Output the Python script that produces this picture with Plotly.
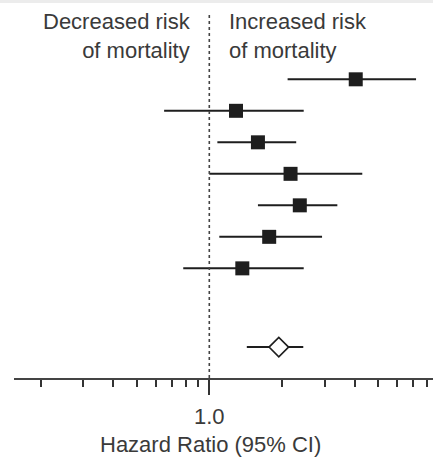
import plotly.graph_objects as go

# Data
rows = [1, 2, 3, 4, 5, 6, 7]
hr = [4.04, 1.29, 1.59, 2.17, 2.37, 1.77, 1.37]
ci_low = [2.11, 0.65, 1.08, 1.00, 1.59, 1.10, 0.78]
ci_high = [7.18, 2.46, 2.29, 4.30, 3.39, 2.93, 2.46]

pooled_row = [9.5]
pooled_hr = [1.94]
pooled_low = [1.43]
pooled_high = [2.45]

major_ticks = [1.0]
major_labels = ["1.0"]
minor_ticks = [0.2, 0.3, 0.4, 0.5, 0.6, 0.7, 0.8, 0.9, 2, 3, 4, 5, 6, 7, 8]

FONT = "Liberation Sans, Arial, Helvetica, sans-serif"
TXT = "#3a3a3a"
INK = "#1e1e1e"

fig = go.Figure()

fig.add_trace(go.Scatter(
    x=hr, y=rows, mode="markers",
    marker=dict(symbol="square", size=14, color=INK),
    error_x=dict(type="data", symmetric=False,
                 array=[h - m for h, m in zip(ci_high, hr)],
                 arrayminus=[m - l for m, l in zip(hr, ci_low)],
                 width=0, thickness=2, color=INK),
    showlegend=False, hoverinfo="skip",
))

fig.add_trace(go.Scatter(
    x=pooled_hr, y=pooled_row, mode="markers",
    marker=dict(symbol="diamond", size=15, color="white",
                line=dict(color=INK, width=1.6)),
    error_x=dict(type="data", symmetric=False,
                 array=[h - m for h, m in zip(pooled_high, pooled_hr)],
                 arrayminus=[m - l for m, l in zip(pooled_hr, pooled_low)],
                 width=0, thickness=2, color=INK),
    showlegend=False, hoverinfo="skip",
))

fig.add_annotation(xref="paper", yref="paper", x=0.4272, y=0.905,
                   xanchor="right", yanchor="middle", align="right",
                   text="Decreased risk<br>of mortality", showarrow=False,
                   font=dict(family=FONT, size=22, color=TXT))
fig.add_annotation(xref="paper", yref="paper", x=0.5084, y=0.905,
                   xanchor="left", yanchor="middle", align="left",
                   text="Increased risk<br>of mortality", showarrow=False,
                   font=dict(family=FONT, size=22, color=TXT))
fig.add_annotation(xref="paper", yref="paper", x=0.469, y=-0.177,
                   xanchor="center", yanchor="middle",
                   text="Hazard Ratio (95% CI)", showarrow=False,
                   font=dict(family=FONT, size=22, color=TXT))

fig.update_layout(
    width=433, height=460,
    margin=dict(l=14, r=0, t=0, b=82),
    paper_bgcolor="white", plot_bgcolor="white",
    xaxis=dict(type="log", range=[-0.8087, 0.9263],
               tickmode="array", tickvals=major_ticks, ticktext=major_labels,
               ticks="outside", ticklen=15, tickwidth=1.6, tickcolor="#333333",
               ticklabelstandoff=3,
               minor=dict(tickmode="array", tickvals=minor_ticks, ticks="outside",
                          ticklen=7, tickwidth=1.6, tickcolor="#333333", showgrid=False),
               showline=True, linecolor="#444444", linewidth=2,
               showgrid=False, zeroline=False,
               tickfont=dict(family=FONT, size=22, color=TXT)),
    yaxis=dict(range=[10.48, -1.517], visible=False, showgrid=False, zeroline=False),
    shapes=[
        dict(type="line", xref="x", yref="paper", x0=1, x1=1, y0=0, y1=0.966,
             line=dict(color="#444444", width=1.6, dash="dot")),
        dict(type="rect", xref="paper", yref="paper", x0=-0.04, x1=1.0,
             y0=0.992, y1=1.0, fillcolor="#ececec", line=dict(width=0), layer="below"),
    ],
)

fig.write_html("out.html")
